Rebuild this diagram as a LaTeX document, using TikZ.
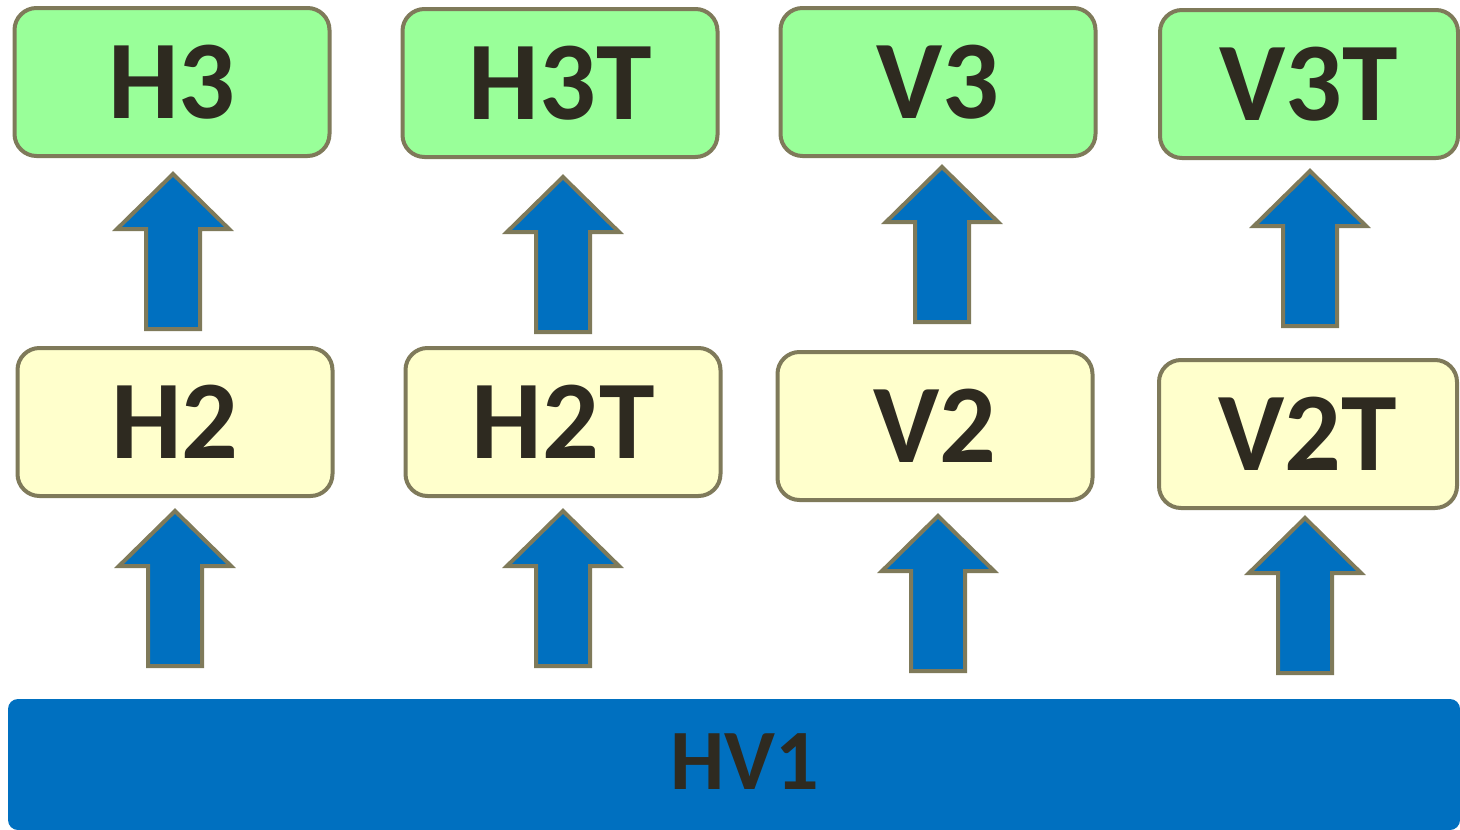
\documentclass[tikz,border=0pt]{standalone}
\usepackage{fontspec}
\setmainfont{Carlito}
\definecolor{bord}{HTML}{7F7A5A}
\definecolor{gfill}{HTML}{99FF99}
\definecolor{yfill}{HTML}{FFFFCC}
\definecolor{bblue}{HTML}{0070C0}
\definecolor{txt}{HTML}{2E2A20}
\tikzset{
  box/.style={draw=bord, line width=4pt, rounded corners=22pt, inner sep=0pt,
    text=txt, font=\fontsize{112}{112}\selectfont\bfseries,
    minimum width=315pt, minimum height=148pt},
  gbox/.style={box, fill=gfill},
  ybox/.style={box, fill=yfill},
  barrow/.style={draw=bord, fill=bblue, line width=4pt, line join=miter},
}
\newcommand{\blockup}[2]{% x, ytip
  \draw[barrow] (#1,#2) -- ++(56,55) -- ++(-29,0) -- ++(0,100) -- ++(-54,0)
    -- ++(0,-100) -- ++(-29,0) -- cycle;}
\begin{document}
\begin{tikzpicture}[x=1pt,y=-1pt]
\useasboundingbox (0,0) rectangle (1460,830);
\fill[white] (0,0) rectangle (1460,830);
% top row
\node[gbox] (h3) at (172,82) {H3};
\node[gbox] (h3t) at (560,83) {H3T};
\node[gbox] (v3) at (938,82) {V3};
\node[gbox, minimum width=298pt] (v3t) at (1309,84) {V3T};
% middle row
\node[ybox] (h2) at (175,422) {H2};
\node[ybox] (h2t) at (563,422) {H2T};
\node[ybox] (v2) at (935,426) {V2};
\node[ybox, minimum width=298pt] (v2t) at (1308,434) {V2T};
% bottom bar
\node[fill=bblue, rounded corners=10pt, minimum width=1452pt, minimum height=131pt,
  inner sep=0pt] (hv1) at (734,764.5) {};
\node[text=txt, font=\fontsize{86}{86}\selectfont\bfseries, inner sep=0pt] (hv1t) at (745,762) {HV1};
% arrows
\blockup{173}{174}
\blockup{563}{177}
\blockup{942}{167}
\blockup{1310}{171}
\blockup{175}{511}
\blockup{563}{511}
\blockup{938}{516}
\blockup{1305}{518}
\end{tikzpicture}
\end{document}
